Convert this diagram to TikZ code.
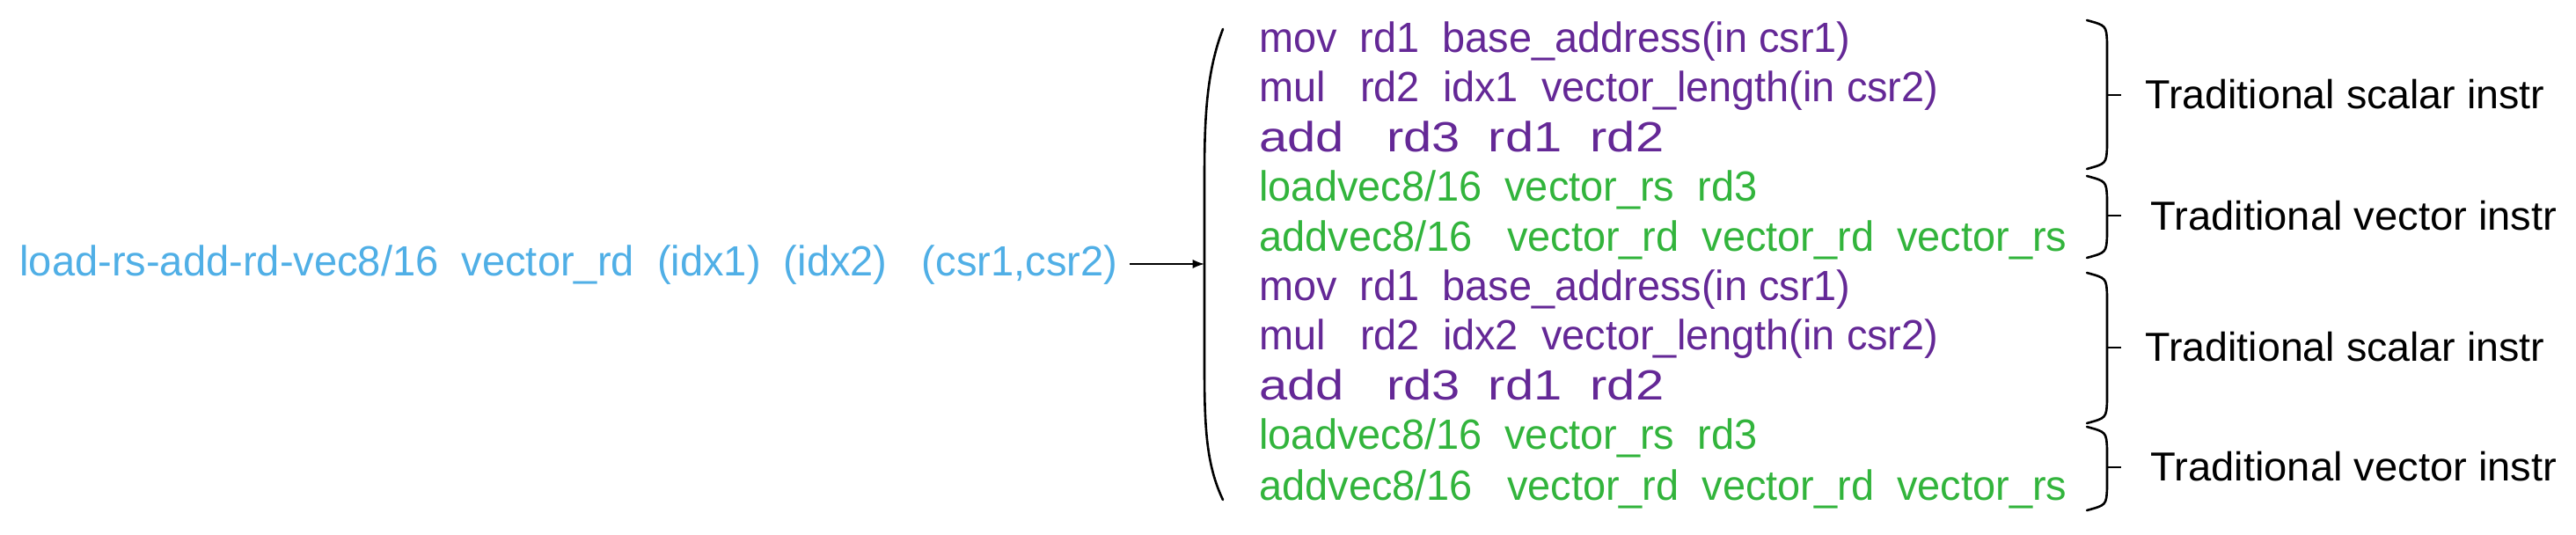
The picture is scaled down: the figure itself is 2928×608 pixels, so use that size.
\documentclass[tikz,border=0pt]{standalone}
\usepackage{fontspec}
\setmainfont{Liberation Sans}
\usepackage{graphicx}
\definecolor{cblue}{RGB}{80,175,230}
\definecolor{cpur}{RGB}{100,40,150}
\definecolor{cgrn}{RGB}{50,180,60}
\newcommand{\fitw}[2]{\resizebox{#1}{\height}{#2}}
\begin{document}
\begin{tikzpicture}[x=0.5pt,y=-0.5pt,
  ins/.style={anchor=base west,inner sep=0pt,font=\fontsize{24}{28}\selectfont},
  sc/.style={ins,text=cpur}, vc/.style={ins,text=cgrn},
  lab/.style={anchor=base west,inner sep=0pt,font=\fontsize{23}{27}\selectfont},
  br/.style={line width=1.3pt,line cap=round}]
\useasboundingbox (0,0) rectangle (2928,608);
\node[anchor=base west,inner sep=0pt,text=cblue,font=\fontsize{24}{28}\selectfont] (src) at (22,314)
 {\fitw{624pt}{load-rs-add-rd-vec8/16\ \ vector\_rd\ \ (idx1)\ \ (idx2)\ \ \ (csr1,csr2)}};
\coordinate (tip) at (1369,300);
\draw[line width=1.3pt,-latex] (1284,300) -- (tip);
\draw[br] (1390,33) .. controls (1372,80) and (1369,130) .. (1369,200) -- (1369,420) .. controls (1369,490) and (1372,530) .. (1390,568);
\foreach \k/\a/\b in {0/1/base\_address(in csr1),5/2/base\_address(in csr1)}{}
% block 1
\node[sc] (m1) at (1431,60)  {\fitw{336pt}{mov\ \ rd1\ \ base\_address(in csr1)}};
\node[sc] (u1) at (1431,116) {\fitw{386pt}{mul\ \ \ rd2\ \ idx1\ \ vector\_length(in csr2)}};
\node[sc] (a1) at (1431,173) {\fitw{230pt}{add\ \ \ rd3\ \ rd1\ \ rd2}};
\node[vc] (l1) at (1431,229) {\fitw{283pt}{loadvec8/16\ \ vector\_rs\ \ rd3}};
\node[vc] (v1) at (1431,286) {\fitw{459pt}{addvec8/16\ \ \ vector\_rd\ \ vector\_rd\ \ vector\_rs}};
\node[sc] (m2) at (1431,342) {\fitw{336pt}{mov\ \ rd1\ \ base\_address(in csr1)}};
\node[sc] (u2) at (1431,398) {\fitw{386pt}{mul\ \ \ rd2\ \ idx2\ \ vector\_length(in csr2)}};
\node[sc] (a2) at (1431,455) {\fitw{230pt}{add\ \ \ rd3\ \ rd1\ \ rd2}};
\node[vc] (l2) at (1431,511) {\fitw{283pt}{loadvec8/16\ \ vector\_rs\ \ rd3}};
\node[vc] (v2) at (1431,568) {\fitw{459pt}{addvec8/16\ \ \ vector\_rd\ \ vector\_rd\ \ vector\_rs}};
% braces
\foreach \ya/\yb/\ym in {23/192/108, 200/293/245, 310/481/395, 485/580/531}{
  \draw[br] (2372,\ya) .. controls (2394,\ya+6) .. (2395,\ya+25) -- (2395,\yb-25) .. controls (2394,\yb-6) .. (2372,\yb);
  \draw[line width=1.3pt] (2395,\ym) -- (2411,\ym);
}
\node[lab] (t1) at (2438,124) {\fitw{227pt}{Traditional scalar instr}};
\node[lab] (t2) at (2444,262) {\fitw{231pt}{Traditional vector instr}};
\node[lab] (t3) at (2438,411) {\fitw{227pt}{Traditional scalar instr}};
\node[lab] (t4) at (2444,547) {\fitw{231pt}{Traditional vector instr}};
\end{tikzpicture}
\end{document}
